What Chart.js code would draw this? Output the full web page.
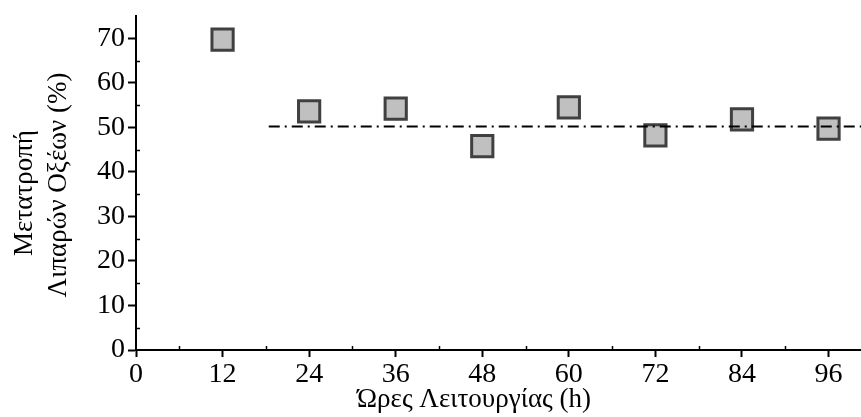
<!DOCTYPE html>
<html>
<head>
<meta charset="utf-8">
<script src="https://cdn.jsdelivr.net/npm/chart.js@4"></script>
<style>
html,body{margin:0;padding:0;background:#fff;}
#wrap{width:861px;height:417px;position:relative;}
</style>
</head>
<body>
<div id="wrap"><canvas id="c" width="861" height="417"></canvas></div>
<script>
// ---- data ----
const hours = [12, 24, 36, 48, 60, 72, 84, 96];
const conversion = [69.7, 53.6, 54.2, 45.8, 54.5, 48.2, 51.8, 49.7];
const meanLineX = [18.4, 100.5];
const meanLineY = [50.2, 50.2];
const xTicks = [0, 12, 24, 36, 48, 60, 72, 84, 96];
const yTicks = [0, 10, 20, 30, 40, 50, 60, 70];
const xMinorTicks = [6, 18, 30, 42, 54, 66, 78, 90];
const yMinorTicks = [5, 15, 25, 35, 45, 55, 65];
const xTitle = 'Ώρες Λειτουργίας (h)';
const yTitle = ['Μετατροπή', 'Λιπαρών Οξέων (%)'];

const FONT = '"Liberation Serif", "DejaVu Serif", serif';

const extras = {
  id: 'extras',
  afterDraw(chart) {
    const ctx = chart.ctx;
    const xs = chart.scales.x, ys = chart.scales.y;
    ctx.save();
    ctx.strokeStyle = '#000';
    ctx.lineWidth = 1.5;
    // minor ticks (inward)
    xMinorTicks.forEach(v => {
      const px = Math.round(xs.getPixelForValue(v)) + 0.5;
      ctx.beginPath(); ctx.moveTo(px, ys.bottom); ctx.lineTo(px, ys.bottom - 4); ctx.stroke();
    });
    yMinorTicks.forEach(v => {
      const py = Math.round(ys.getPixelForValue(v)) + 0.5;
      ctx.beginPath(); ctx.moveTo(xs.left, py); ctx.lineTo(xs.left + 4, py); ctx.stroke();
    });
    // axis titles
    ctx.fillStyle = '#000';
    ctx.font = '27px ' + FONT;
    ctx.textAlign = 'center';
    ctx.textBaseline = 'alphabetic';
    ctx.fillText(xTitle, 474, 407);
    ctx.save();
    ctx.translate(32, 193);
    ctx.rotate(-Math.PI / 2);
    ctx.fillText(yTitle[0], 0, 0);
    ctx.restore();
    ctx.save();
    ctx.translate(66, 185);
    ctx.rotate(-Math.PI / 2);
    ctx.fillText(yTitle[1], 0, 0);
    ctx.restore();
    ctx.restore();
  }
};

new Chart(document.getElementById('c'), {
  type: 'scatter',
  data: {
    datasets: [
      {
        type: 'line',
        data: meanLineX.map((x, i) => ({x: x, y: meanLineY[i]})),
        borderColor: '#000',
        borderWidth: 2,
        borderDash: [11, 5, 2, 5],
        pointRadius: 0,
        fill: false,
        clip: false
      },
      {
        data: hours.map((h, i) => ({x: h, y: conversion[i]})),
        pointStyle: 'rect',
        pointRadius: 15,
        pointHoverRadius: 15,
        backgroundColor: '#c0c0c0',
        borderColor: '#404040',
        borderWidth: 3,
        clip: false
      }
    ]
  },
  options: {
    responsive: false,
    animation: false,
    events: [],
    layout: {autoPadding: false, padding: {top: 16, right: 0, left: 0, bottom: 0}},
    plugins: {legend: {display: false}, tooltip: {enabled: false}},
    scales: {
      x: {
        type: 'linear',
        min: 0, max: 100.5,
        afterBuildTicks(s) { s.ticks = xTicks.map(v => ({value: v})); },
        afterFit(s) { s.height = 67; s.paddingLeft = 0; s.paddingRight = 0; },
        border: {color: '#000', width: 2},
        grid: {drawOnChartArea: false, drawTicks: true, tickLength: 7, tickColor: '#000', tickWidth: 2},
        ticks: {color: '#000', font: {family: FONT, size: 28}, padding: 1, maxRotation: 0, autoSkip: false}
      },
      y: {
        type: 'linear',
        min: 0, max: 75,
        afterBuildTicks(s) { s.ticks = yTicks.map(v => ({value: v})); },
        afterFit(s) { s.width = 136; s.paddingTop = 0; s.paddingBottom = 0; },
        border: {color: '#000', width: 2},
        grid: {drawOnChartArea: false, drawTicks: true, tickLength: 8, tickColor: '#000', tickWidth: 2},
        ticks: {color: '#000', font: {family: FONT, size: 28}, padding: 3, autoSkip: false}
      }
    }
  },
  plugins: [extras]
});
</script>
</body>
</html>
